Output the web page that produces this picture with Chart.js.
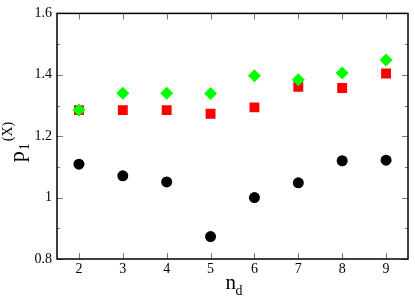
<!DOCTYPE html>
<html>
<head>
<meta charset="utf-8">
<script src="https://cdn.jsdelivr.net/npm/chart.js@4/dist/chart.umd.min.js"></script>
<style>
  html, body { margin: 0; padding: 0; background: #fff; }
  #wrap { width: 415px; height: 296px; }
</style>
</head>
<body>
<div id="wrap"><canvas id="c" width="415" height="296"></canvas></div>
<script>
// -------------------- DATA -------------------
let nd = [2, 3, 4, 5, 6, 7, 8, 9];
let blackVals = [1.109, 1.071, 1.051, 0.873, 1.000, 1.048, 1.120, 1.122];
let redVals   = [1.285, 1.285, 1.285, 1.273, 1.294, 1.361, 1.357, 1.404];
let greenVals = [1.285, 1.340, 1.340, 1.339, 1.397, 1.384, 1.406, 1.448];
let yTicks = [0.8, 1.0, 1.2, 1.4, 1.6];
let yMinor = [0.9, 1.1, 1.3, 1.5];

const FONT = '"Liberation Serif", "DejaVu Serif", serif';

function toPoints(xs, ys) {
  return xs.map((x, i) => ({ x: x, y: ys[i] }));
}

// -------------------- PLUGIN: frame, inward ticks, axis titles -------------------
const framePlugin = {
  id: 'frame',
  afterDraw(chart) {
    const ctx = chart.ctx;
    const a = chart.chartArea;
    const xs = chart.scales.x, ys = chart.scales.y;
    ctx.save();
    // inward ticks
    ctx.strokeStyle = '#777';
    ctx.lineWidth = 1;
    ctx.beginPath();
    nd.forEach(v => {
      let px = Math.round(xs.getPixelForValue(v)) + 0.5;
      ctx.moveTo(px, a.bottom); ctx.lineTo(px, a.bottom - 6);
      ctx.moveTo(px, a.top); ctx.lineTo(px, a.top + 6);
    });
    yTicks.forEach(v => {
      let py = Math.round(ys.getPixelForValue(v)) + 0.5;
      ctx.moveTo(a.left, py); ctx.lineTo(a.left + 6, py);
      ctx.moveTo(a.right, py); ctx.lineTo(a.right - 6, py);
    });
    yMinor.forEach(v => {
      let py = Math.round(ys.getPixelForValue(v)) + 0.5;
      ctx.moveTo(a.left, py); ctx.lineTo(a.left + 3, py);
      ctx.moveTo(a.right, py); ctx.lineTo(a.right - 3, py);
    });
    ctx.stroke();
    // frame
    ctx.strokeStyle = '#000';
    ctx.lineWidth = 1.5;
    ctx.strokeRect(a.left, a.top, a.right - a.left, a.bottom - a.top);

    // x title n_d
    ctx.fillStyle = '#000';
    ctx.textBaseline = 'alphabetic';
    ctx.textAlign = 'left';
    ctx.font = '21px ' + FONT;
    let cx = (a.left + a.right) / 2;
    ctx.fillText('n', cx - 7, 289);
    ctx.font = '14px ' + FONT;
    ctx.fillText('d', cx + 3, 295);

    // y title p_1^(X)
    ctx.translate(24, (a.top + a.bottom) / 2);
    ctx.rotate(-Math.PI / 2);
    ctx.font = '22px ' + FONT;
    ctx.fillText('p', -26, 0);
    ctx.font = '14px ' + FONT;
    ctx.fillText('1', -14, 5);
    ctx.fillText('(X)', -5, -12);
    ctx.restore();
  }
};

// -------------------- CHART -------------------
new Chart(document.getElementById('c'), {
  type: 'scatter',
  data: {
    datasets: [
      {
        label: 'black',
        data: toPoints(nd, blackVals),
        pointStyle: 'circle',
        radius: 5.5,
        backgroundColor: '#000',
        borderColor: '#000',
        borderWidth: 0,
        order: 3
      },
      {
        label: 'red',
        data: toPoints(nd, redVals),
        pointStyle: 'rect',
        radius: 7,
        backgroundColor: '#ff0000',
        borderColor: '#ff0000',
        borderWidth: 0,
        order: 2
      },
      {
        label: 'green',
        data: toPoints(nd, greenVals),
        pointStyle: 'rectRot',
        radius: 6.5,
        backgroundColor: '#00ff00',
        borderColor: '#00ff00',
        borderWidth: 0,
        order: 1
      }
    ]
  },
  options: {
    responsive: false,
    animation: false,
    events: [],
    layout: { padding: { top: 7, right: 3, left: 0, bottom: 0 } },
    plugins: {
      legend: { display: false },
      tooltip: { enabled: false }
    },
    scales: {
      x: {
        type: 'linear',
        min: 1.5,
        max: 9.5,
        afterBuildTicks: (s) => { s.ticks = nd.map(v => ({ value: v })); },
        afterFit: (s) => { s.height = 37; },
        grid: { display: false, drawTicks: false },
        border: { display: false },
        ticks: {
          padding: 2,
          color: '#000',
          font: { family: FONT, size: 14 },
          callback: (v) => String(v)
        }
      },
      y: {
        type: 'linear',
        min: 0.8,
        max: 1.6,
        afterBuildTicks: (s) => { s.ticks = yTicks.map(v => ({ value: v })); },
        afterFit: (s) => { s.width = 57; },
        grid: { display: false, drawTicks: false },
        border: { display: false },
        ticks: {
          padding: 5,
          color: '#000',
          font: { family: FONT, size: 14 },
          callback: (v) => String(+v.toFixed(1))
        }
      }
    }
  },
  plugins: [framePlugin]
});
</script>
</body>
</html>
